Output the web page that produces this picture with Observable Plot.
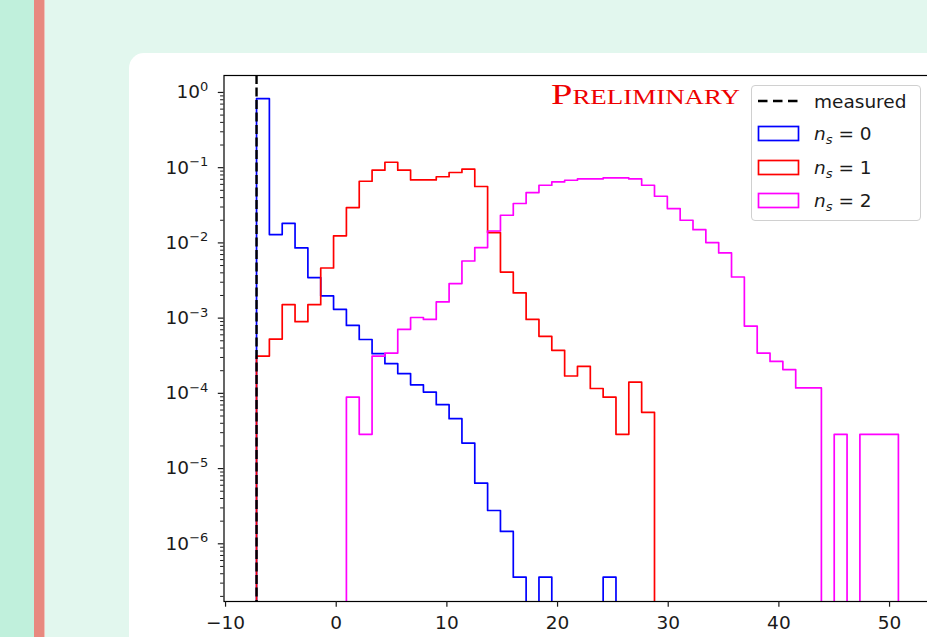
<!DOCTYPE html>
<html>
<head>
<meta charset="utf-8">
<script src="https://cdn.jsdelivr.net/npm/d3@7"></script>
<script src="https://cdn.jsdelivr.net/npm/@observablehq/plot@0.6"></script>
<style>
  html, body { margin: 0; padding: 0; width: 927px; height: 637px; overflow: hidden; }
  body { background: #e2f7ee; position: relative; font-family: "DejaVu Sans", sans-serif; }
  #strip { position: absolute; left: 0; top: 0; width: 34px; height: 637px; background: #c0f0dc; }
  #bar { position: absolute; left: 34px; top: 0; width: 10px; height: 637px; background: #e8897f; }
  #barEdge { position: absolute; left: 44px; top: 0; width: 1px; height: 637px; background: #efc3bb; }
  #card { position: absolute; left: 129px; top: 53px; width: 840px; height: 640px; background: #fff; border-radius: 15px; }
  #chart { position: absolute; left: 0; top: 0; width: 938px; height: 637px; }
  #chart svg { max-width: none !important; }
  #legend { position: absolute; left: 751px; top: 85px; width: 168px; height: 134px; border: 1px solid #d0d0d0; border-radius: 4px; background: rgba(255,255,255,0.85); font-family: "DejaVu Sans", sans-serif; font-size: 18.5px; color: #1a1a1a; }
  .row { position: absolute; left: 0; width: 168px; height: 30px; }
  .row svg { position: absolute; left: 5px; top: 0; }
  .row span { position: absolute; left: 62px; top: 3px; white-space: nowrap; line-height: 24px; }
  .row i { font-style: oblique; }
  .row sub { font-size: 13px; vertical-align: -4px; }
</style>
</head>
<body>
<div id="strip"></div>
<div id="bar"></div>
<div id="barEdge"></div>
<div id="card"></div>
<div id="chart"></div>
<div id="legend"></div>
<script>
// ---- data ----
const binEdges = [-7.2, -6.04, -4.88, -3.72, -2.56, -1.4, -0.24, 0.92, 2.08, 3.24, 4.4,
  5.56, 6.72, 7.88, 9.04, 10.2, 11.36, 12.52, 13.68, 14.84, 16.0, 17.16, 18.32, 19.48,
  20.64, 21.8, 22.96, 24.12, 25.28, 26.44, 27.6, 28.76, 29.92, 31.08, 32.24, 33.4, 34.56,
  35.72, 36.88, 38.04, 39.2, 40.36, 41.52, 42.68, 43.84, 45.0, 46.16, 47.32, 48.48, 49.64, 50.8];

const ns0 = [0.83, 0.0129, 0.0182, 0.00857, 0.00346, 0.00197, 0.00131, 8.0e-4, 5.2e-4, 3.37e-4,
  2.48e-4, 1.83e-4, 1.30e-4, 1.04e-4, 7.07e-5, 4.6e-5, 2.18e-5, 6.4e-6, 2.77e-6, 1.46e-6,
  3.6e-7, 0, 3.6e-7, 0, 0, 0, 0, 3.6e-7, 0, 0,
  0, 0, 0, 0, 0, 0, 0, 0, 0, 0,
  0, 0, 0, 0, 0, 0, 0, 0, 0, 0];

const ns1 = [3.13e-4, 5.27e-4, 1.51e-3, 8.98e-4, 1.51e-3, 4.64e-3, 0.0124, 0.0295, 0.066, 0.0925,
  0.118, 0.0925, 0.0687, 0.0687, 0.0757, 0.0863, 0.0954, 0.0562, 0.0137, 4.1e-3,
  2.16e-3, 9.6e-4, 5.73e-4, 3.73e-4, 1.70e-4, 2.29e-4, 1.16e-4, 8.9e-5, 2.85e-5, 1.41e-4,
  5.6e-5, 0, 0, 0, 0, 0, 0, 0, 0, 0,
  0, 0, 0, 0, 0, 0, 0, 0, 0, 0];

const ns2 = [0, 0, 0, 0, 0, 0, 0, 8.9e-5, 2.85e-5, 3.13e-4,
  3.43e-4, 7.1e-4, 1.02e-3, 9.6e-4, 1.64e-3, 2.88e-3, 5.75e-3, 8.67e-3, 0.0144, 0.0233,
  0.0334, 0.0467, 0.0584, 0.0647, 0.0681, 0.0709, 0.0709, 0.0731, 0.0731, 0.0709,
  0.0584, 0.0417, 0.0286, 0.0200, 0.0150, 0.0101, 7.35e-3, 3.52e-3, 7.85e-4, 3.43e-4,
  2.66e-4, 2.07e-4, 1.18e-4, 1.18e-4, 0, 2.85e-5, 0, 2.85e-5, 2.85e-5, 2.85e-5];

const seriesNames = ["n_s = 0", "n_s = 1", "n_s = 2"];
const seriesColors = ["#0000ff", "#ff0000", "#ff00ff"];
const measuredValue = -7.2;
const xTicks = [-10, 0, 10, 20, 30, 40, 50];
const yTicks = [1, 1e-1, 1e-2, 1e-3, 1e-4, 1e-5, 1e-6];
const yTickExponents = ["0", "−1", "−2", "−3", "−4", "−5", "−6"];
const annotationText = "Preliminary";

// ---- build step outlines (matplotlib histtype="step") ----
const FLOOR = 1e-12; // below the visible domain: the outline drops off the axes
function outline(counts, name) {
  const pts = [{x: binEdges[0], y: FLOOR, s: name}];
  counts.forEach((c, i) => pts.push({x: binEdges[i], y: c > 0 ? c : FLOOR, s: name}));
  pts.push({x: binEdges[binEdges.length - 1], y: FLOOR, s: name});
  return pts;
}
const allSeries = [ns0, ns1, ns2];
const minorTicks = [];
for (let e = -7; e <= 0; e++) for (let m = 2; m <= 9; m++) {
  const v = m * Math.pow(10, e);
  if (v > 1.71e-7 && v < 1.68) minorTicks.push(v);
}

const lineMarks = allSeries.map((counts, k) =>
  Plot.line(outline(counts, seriesNames[k]), {
    x: "x", y: "y", curve: "step-after", stroke: seriesColors[k],
    strokeWidth: 1.7, clip: true
  })
);

const chart = Plot.plot({
  width: 938,
  height: 637,
  marginLeft: 223.5,
  marginTop: 75,
  marginRight: 8,
  marginBottom: 36,
  style: {background: "transparent", fontFamily: "DejaVu Sans", fontSize: "18.5px", color: "#1a1a1a", overflow: "visible", maxWidth: "none"},
  x: {domain: [-10.14, 53.7]},
  y: {type: "log", domain: [1.71e-7, 1.68]},
  marks: [
    ...lineMarks,
    Plot.ruleX([measuredValue], {stroke: "black", strokeWidth: 2.4, strokeDasharray: "9,3.5"}),
    Plot.frame({stroke: "black", strokeWidth: 1.2}),
    Plot.axisX({ticks: xTicks, tickSize: 5.7, tickPadding: 9, fontSize: 18.5, label: null, strokeWidth: 1.2}),
    Plot.axisY({ticks: yTicks, tickSize: 5.7, tickPadding: 10, fontSize: 18.5, label: null, strokeWidth: 1.2,
      tickFormat: (d, i) => "10^" + yTickExponents[yTicks.indexOf(d)]}),
    Plot.axisY({ticks: minorTicks, tickSize: 3.4, tickFormat: null, label: null, strokeWidth: 1, text: null}),
    Plot.text([annotationText], {frameAnchor: "top-left", dx: 327, dy: 19, textAnchor: "start",
      lineAnchor: "middle", fill: "#ee0000", fontFamily: "Liberation Serif", fontSize: 30,
      fontVariant: "small-caps"})
  ]
});
chart.style.maxWidth = "none";
document.getElementById("chart").appendChild(chart);

// superscript formatting of y tick labels (matplotlib mathtext look)
chart.querySelectorAll("text").forEach(t => {
  const s = t.textContent;
  const m = /^10\^(.*)$/.exec(s);
  if (m) {
    while (t.firstChild) t.removeChild(t.firstChild);
    const base = document.createElementNS("http://www.w3.org/2000/svg", "tspan");
    base.textContent = "10";
    const sup = document.createElementNS("http://www.w3.org/2000/svg", "tspan");
    sup.textContent = m[1];
    sup.setAttribute("dy", "-7.5");
    sup.setAttribute("font-size", "13");
    t.appendChild(base);
    t.appendChild(sup);
  } else if (s === annotationText) {
    t.setAttribute("textLength", "189");
    t.setAttribute("lengthAdjust", "spacingAndGlyphs");
  }
});

// ---- legend ----
const legend = document.getElementById("legend");
const rows = [{label: "measured", type: "dash"}].concat(
  seriesNames.map((n, k) => ({label: n, type: "patch", color: seriesColors[k]})));
const rowTops = [1, 33, 67, 100];
rows.forEach((r, i) => {
  const div = document.createElement("div");
  div.className = "row";
  div.style.top = rowTops[i] + "px";
  let sw;
  if (r.type === "dash") {
    sw = `<svg width="44" height="30"><line x1="1" x2="41" y1="14" y2="14" stroke="black" stroke-width="2.4" stroke-dasharray="9.5,5.5"/></svg>`;
  } else {
    sw = `<svg width="44" height="30"><rect x="1.5" y="7.5" width="40" height="14" fill="none" stroke="${r.color}" stroke-width="1.7"/></svg>`;
  }
  let lab = r.label;
  if (lab.startsWith("n_s")) lab = `<i>n</i><sub><i>s</i></sub> ${lab.slice(4)}`;
  div.innerHTML = sw + `<span>${lab}</span>`;
  legend.appendChild(div);
});
</script>
</body>
</html>
